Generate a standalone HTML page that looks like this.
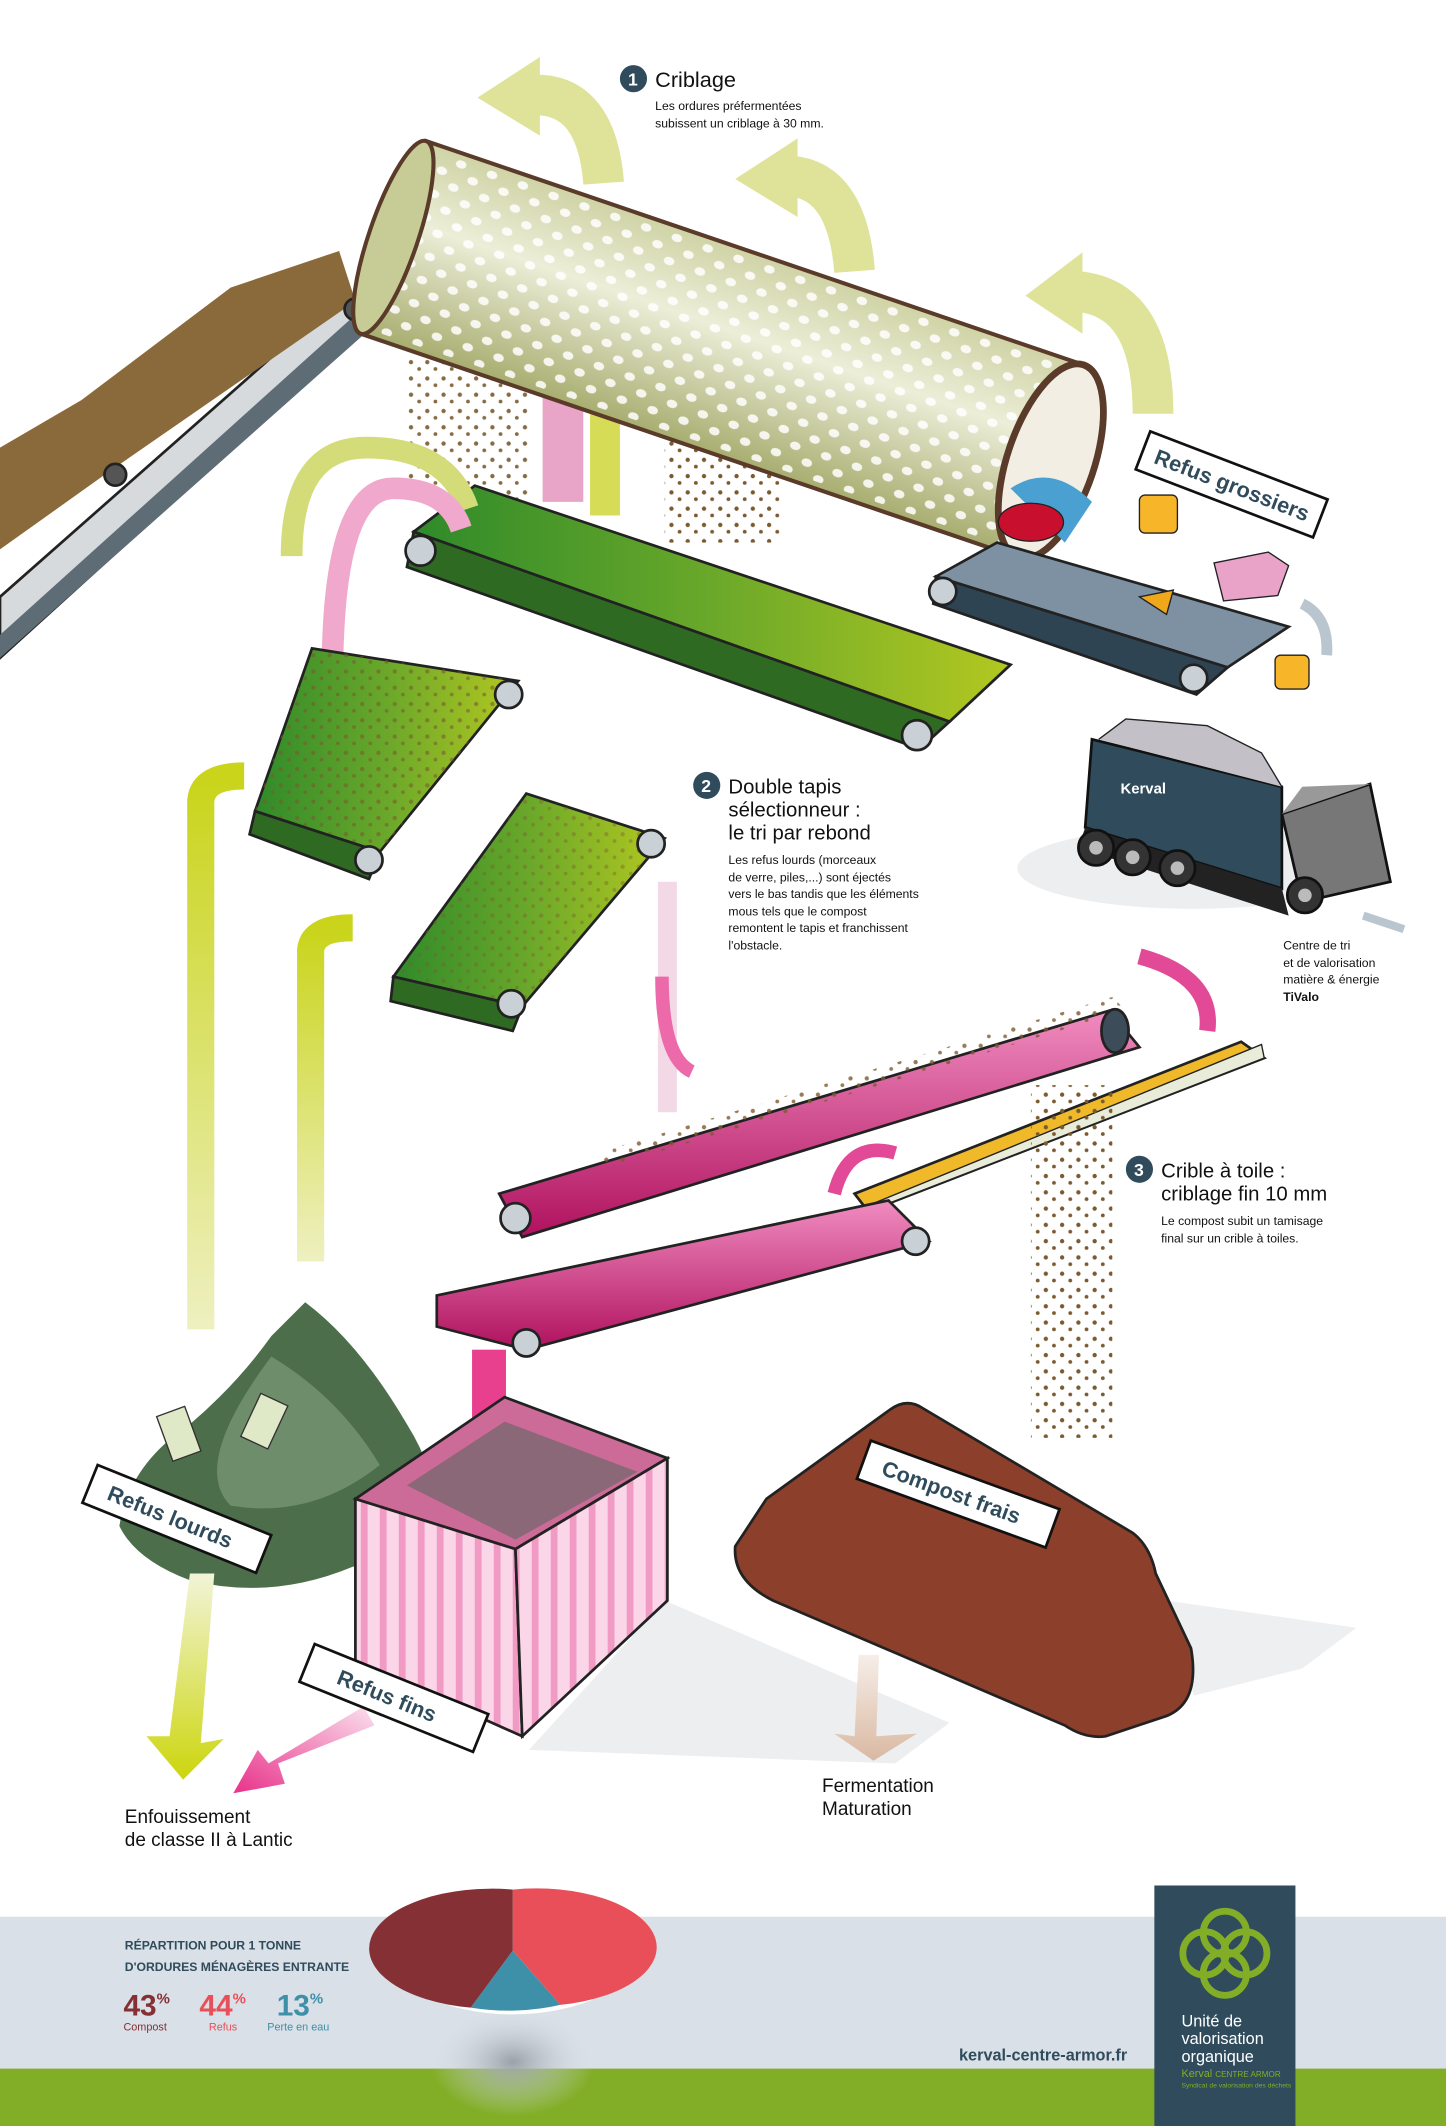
<!DOCTYPE html>
<html><head><meta charset="utf-8"><style>
html,body{margin:0;padding:0;background:#fff}
svg{display:block}
text{font-family:"Liberation Sans Narrow","Liberation Sans",sans-serif}
</style></head><body>
<svg width="1446" height="2126" viewBox="0 0 1066 1567.3" preserveAspectRatio="none" xmlns="http://www.w3.org/2000/svg">
<defs>
<linearGradient id="yg" x1="0" y1="0" x2="0" y2="1"><stop offset="0" stop-color="#c9d41a"/><stop offset="1" stop-color="#eef0c0"/></linearGradient>
<linearGradient id="yg2" x1="0" y1="0" x2="0" y2="1"><stop offset="0" stop-color="#f2f4d8"/><stop offset="1" stop-color="#ccd60c"/></linearGradient>
<linearGradient id="pk2" x1="1" y1="0" x2="0" y2="1"><stop offset="0" stop-color="#fbe0ee"/><stop offset="1" stop-color="#e8328a"/></linearGradient>
<linearGradient id="tan" x1="0" y1="0" x2="0" y2="1"><stop offset="0" stop-color="#f6eee8"/><stop offset="1" stop-color="#d9b9a2"/></linearGradient>
<linearGradient id="grn" x1="0" y1="0" x2="1" y2="0"><stop offset="0" stop-color="#2f8a2a"/><stop offset=".5" stop-color="#6aa82a"/><stop offset="1" stop-color="#b3c820"/></linearGradient>
<linearGradient id="drum" x1="0" y1="0" x2="0" y2="1"><stop offset="0" stop-color="#cfd3a5"/><stop offset=".4" stop-color="#eceed8"/><stop offset="1" stop-color="#a8ad70"/></linearGradient>
<linearGradient id="pinkb" x1="0" y1="0" x2="0" y2="1"><stop offset="0" stop-color="#f08cc0"/><stop offset="1" stop-color="#b0115e"/></linearGradient>
<pattern id="str" width="14" height="10" patternUnits="userSpaceOnUse"><rect width="14" height="10" fill="#fbd6e8"/><rect width="5" height="10" fill="#f09ac4"/></pattern>
<pattern id="holes" width="24" height="18" patternUnits="userSpaceOnUse"><ellipse cx="6" cy="5" rx="4" ry="3" fill="#fff" opacity=".85"/><ellipse cx="18" cy="14" rx="4" ry="3" fill="#fff" opacity=".85"/></pattern>
<pattern id="dots" width="12" height="12" patternUnits="userSpaceOnUse"><circle cx="3" cy="3" r="1.6" fill="#7a5a2e"/><circle cx="9" cy="8" r="1.4" fill="#7a5a2e"/></pattern>
<radialGradient id="sh"><stop offset="0" stop-color="#9aa2a8"/><stop offset="1" stop-color="#d9e0e7" stop-opacity="0"/></radialGradient>
</defs>

<g fill="none" stroke="#dfe39a" stroke-width="30">
<path d="M445,135 Q440,70 395,70"/>
<path d="M630,200 Q625,135 585,130"/>
<path d="M850,305 Q850,220 795,215"/>
</g>
<g fill="#dfe39a">
<polygon points="398,42 352,72 398,100"/>
<polygon points="588,102 542,132 588,160"/>
<polygon points="798,186 756,218 798,246"/>
</g>

<!-- left incline conveyor -->
<polygon points="0,440 255,215 270,240 0,485" fill="#d7dadd" stroke="#222" stroke-width="2"/>
<polygon points="0,468 262,232 270,245 0,485" fill="#5e6c76"/>
<polygon points="0,330 60,295 170,212 250,185 262,222 80,348 0,405" fill="#8a6a3a"/>
<circle cx="85" cy="350" r="8" fill="#555" stroke="#222" stroke-width="2"/>
<circle cx="262" cy="228" r="8" fill="#555" stroke="#222" stroke-width="2"/>

<rect x="300" y="250" width="90" height="120" fill="url(#dots)" opacity=".9"/>
<rect x="490" y="290" width="85" height="110" fill="url(#dots)"/>
<rect x="400" y="285" width="30" height="85" fill="#e9a5c8"/>
<rect x="435" y="300" width="22" height="80" fill="#d6dc55"/>

<g transform="translate(290,175) rotate(18.8)">
<rect x="0" y="-75" width="512" height="150" fill="url(#drum)" stroke="#5a3a28" stroke-width="3"/>
<rect x="10" y="-70" width="490" height="140" fill="url(#holes)"/>
<ellipse cx="0" cy="0" rx="18" ry="75" fill="#c7cb95" stroke="#5a3a28" stroke-width="3"/>
<ellipse cx="512" cy="0" rx="32" ry="75" fill="#f2eee4" stroke="#5a3a28" stroke-width="5"/>
</g>

<polygon points="690,425 735,400 950,462 905,492" fill="#7d91a2" stroke="#222" stroke-width="2"/>
<polygon points="690,425 905,492 882,512 688,445" fill="#2f4452" stroke="#222" stroke-width="2"/>
<circle cx="695" cy="436" r="10" fill="#c9d0d6" stroke="#222" stroke-width="2"/>
<circle cx="880" cy="500" r="10" fill="#c9d0d6" stroke="#222" stroke-width="2"/>
<path d="M745,360 q30,-20 60,10 l-20,30 z" fill="#4aa0d0"/>
<ellipse cx="760" cy="385" rx="24" ry="14" fill="#c8102e" stroke="#222"/>
<path d="M895,415 l40,-8 l15,10 l-8,22 l-40,4 z" fill="#e9a3c9" stroke="#222"/>
<rect x="840" y="365" width="28" height="28" rx="4" fill="#f7b52a" stroke="#222"/>
<rect x="940" y="483" width="25" height="25" rx="4" fill="#f7b52a" stroke="#222"/>
<path d="M840,440 l25,-5 l-5,18 z" fill="#f0a81a" stroke="#222"/>
<path d="M960,445 q20,10 18,38" fill="none" stroke="#b9c6d0" stroke-width="8"/>

<polygon points="305,392 350,358 745,490 700,532" fill="url(#grn)" stroke="#222" stroke-width="2"/>
<polygon points="305,392 700,532 678,552 300,418" fill="#2e6a22" stroke="#222" stroke-width="2"/>
<circle cx="310" cy="406" r="11" fill="#c9d0d6" stroke="#222" stroke-width="2"/>
<circle cx="676" cy="542" r="11" fill="#c9d0d6" stroke="#222" stroke-width="2"/>

<path d="M215,410 Q215,330 270,330 Q330,330 345,375" fill="none" stroke="#d4dc7a" stroke-width="16"/>
<path d="M245,500 Q245,360 290,360 Q330,360 340,390" fill="none" stroke="#f0a8cc" stroke-width="16"/>

<polygon points="188,598 230,478 382,502 280,628" fill="url(#grn)" stroke="#222" stroke-width="2"/>
<polygon points="188,598 230,478 382,502 280,628" fill="url(#dots)" opacity=".6"/>
<polygon points="188,598 280,628 272,648 184,615" fill="#2e6a22" stroke="#222" stroke-width="2"/>
<circle cx="272" cy="634" r="10" fill="#c9d0d6" stroke="#222" stroke-width="2"/>
<circle cx="375" cy="512" r="10" fill="#c9d0d6" stroke="#222" stroke-width="2"/>
<polygon points="290,720 388,585 490,618 385,742" fill="url(#grn)" stroke="#222" stroke-width="2"/>
<polygon points="290,720 388,585 490,618 385,742" fill="url(#dots)" opacity=".4"/>
<polygon points="290,720 385,742 378,760 288,738" fill="#2e6a22" stroke="#222" stroke-width="2"/>
<circle cx="377" cy="740" r="10" fill="#c9d0d6" stroke="#222" stroke-width="2"/>
<circle cx="480" cy="622" r="10" fill="#c9d0d6" stroke="#222" stroke-width="2"/>

<path d="M148,980 L148,590 Q150,572 180,572" fill="none" stroke="url(#yg)" stroke-width="20"/>
<path d="M229,930 L229,700 Q231,684 260,684" fill="none" stroke="url(#yg)" stroke-width="20"/>
<path d="M492,650 L492,820" stroke="#f3d9e6" stroke-width="14"/>
<path d="M488,720 Q488,780 510,790" fill="none" stroke="#ec6aa9" stroke-width="10"/>

<polygon points="368,880 818,745 840,772 385,912" fill="url(#pinkb)" stroke="#222" stroke-width="2"/>
<polygon points="440,850 820,735 830,745 450,860" fill="url(#dots)" opacity=".8"/>
<ellipse cx="822" cy="760" rx="10" ry="16" fill="#3c4c58" stroke="#222" stroke-width="2"/>
<circle cx="380" cy="898" r="11" fill="#c9d0d6" stroke="#222" stroke-width="2"/>
<path d="M840,705 Q895,720 890,760" fill="none" stroke="#e24a97" stroke-width="12"/>
<polygon points="630,880 915,768 932,780 640,893" fill="#f0b92a" stroke="#222" stroke-width="2"/>
<polygon points="632,892 640,893 932,780 930,770" fill="#e9ecd8" stroke="#222" stroke-width="1"/>
<polygon points="322,955 655,885 685,915 388,995 322,978" fill="url(#pinkb)" stroke="#222" stroke-width="2"/>
<circle cx="388" cy="990" r="10" fill="#c9d0d6" stroke="#222" stroke-width="2"/>
<circle cx="675" cy="915" r="10" fill="#c9d0d6" stroke="#222" stroke-width="2"/>
<path d="M615,880 Q625,840 660,850" fill="none" stroke="#e24a97" stroke-width="10"/>
<rect x="760" y="800" width="60" height="260" fill="url(#dots)"/>

<rect x="348" y="995" width="25" height="60" fill="#e8408f"/>

<ellipse cx="880" cy="640" rx="130" ry="30" fill="#eceef0"/>
<polygon points="805,545 945,580 945,655 800,610" fill="#2f4b5c" stroke="#111" stroke-width="2"/>
<polygon points="800,610 945,655 950,675 795,625" fill="#222"/>
<polygon points="945,600 1010,578 1025,650 960,665" fill="#777" stroke="#111" stroke-width="2"/>
<polygon points="945,600 960,580 1010,578" fill="#999"/>
<g fill="#333" stroke="#111" stroke-width="2"><circle cx="808" cy="625" r="13"/><circle cx="835" cy="632" r="13"/><circle cx="868" cy="640" r="13"/><circle cx="962" cy="660" r="13"/></g>
<g fill="#bbb"><circle cx="808" cy="625" r="5"/><circle cx="835" cy="632" r="5"/><circle cx="868" cy="640" r="5"/><circle cx="962" cy="660" r="5"/></g>
<path d="M810,545 l20,-15 l60,5 l40,20 l15,25" fill="#c4c0c8" stroke="#222"/>
<text x="826" y="585" font-size="11" fill="#fff" font-weight="bold">Kerval</text>
<path d="M1005,675 L1035,685" stroke="#b9c6d0" stroke-width="6"/>

<path d="M225,960 Q265,990 300,1050 Q325,1090 320,1125 Q300,1150 260,1155 Q200,1180 140,1165 Q100,1150 88,1125 Q95,1080 140,1050 Q175,1020 200,985 Z" fill="#4d6e4a"/>
<path d="M200,1000 Q250,1030 280,1080 Q230,1120 170,1110 Q140,1080 200,1000 Z" fill="#7c9a78" opacity=".7"/>
<rect x="120" y="1040" width="22" height="35" fill="#dfe9c8" stroke="#333" transform="rotate(-20 130 1055)"/>
<rect x="185" y="1030" width="22" height="35" fill="#dfe9c8" stroke="#333" transform="rotate(25 195 1045)"/>

<polygon points="490,1180 700,1270 660,1300 390,1290" fill="#eceef0"/>
<polygon points="860,1180 1000,1200 960,1230 880,1250" fill="#eeeff0"/>
<polygon points="262,1105 372,1030 492,1075 380,1142" fill="#cc6a98" stroke="#222" stroke-width="2"/>
<polygon points="300,1095 372,1048 470,1085 380,1135" fill="#8a6878"/>
<polygon points="262,1105 380,1142 385,1280 262,1225" fill="url(#str)" stroke="#222" stroke-width="2"/>
<polygon points="380,1142 492,1075 492,1180 385,1280" fill="url(#str)" stroke="#222" stroke-width="2"/>

<path d="M565,1105 L655,1040 Q668,1030 680,1038 L835,1130 Q848,1140 852,1160 L878,1215 Q885,1255 860,1265 L815,1280 Q800,1282 785,1272 L570,1180 Q540,1165 542,1140 Z" fill="#8c3f2a" stroke="#222" stroke-width="2"/>

<polygon points="140,1160 158,1160 148,1285 165,1282 135,1312 108,1280 125,1280" fill="url(#yg2)"/>
<polygon points="268,1258 276,1272 205,1300 210,1315 172,1322 190,1290 198,1300" fill="url(#pk2)"/>
<polygon points="633,1220 648,1220 646,1280 676,1278 644,1298 615,1278 630,1280" fill="url(#tan)"/>

<g transform="translate(848,318) rotate(21)"><rect x="0" y="0" width="140" height="30" fill="#fff" stroke="#111" stroke-width="2"/><text x="10" y="21" font-size="16" font-weight="bold" fill="#2f4b5c">Refus grossiers</text></g>
<g transform="translate(72,1080) rotate(22)"><rect x="0" y="0" width="138" height="30" fill="#fff" stroke="#111" stroke-width="2"/><text x="15" y="21" font-size="16" font-weight="bold" fill="#2f4b5c">Refus lourds</text></g>
<g transform="translate(232,1212) rotate(22)"><rect x="0" y="0" width="138" height="30" fill="#fff" stroke="#111" stroke-width="2"/><text x="25" y="21" font-size="16" font-weight="bold" fill="#2f4b5c">Refus fins</text></g>
<g transform="translate(642,1062) rotate(20)"><rect x="0" y="0" width="148" height="30" fill="#fff" stroke="#111" stroke-width="2"/><text x="15" y="21" font-size="16" font-weight="bold" fill="#2f4b5c">Compost frais</text></g>

<circle cx="467" cy="58" r="10" fill="#2f4b5c"/><text x="463" y="63" font-size="13" fill="#fff" font-weight="bold">1</text>
<text x="483" y="64" font-size="16" fill="#111">Criblage</text>
<text x="483" y="81" font-size="9" fill="#111">Les ordures préfermentées</text>
<text x="483" y="94" font-size="9" fill="#111">subissent un criblage à 30 mm.</text>

<circle cx="521" cy="579" r="10" fill="#2f4b5c"/><text x="517" y="584" font-size="13" fill="#fff" font-weight="bold">2</text>
<text x="537" y="585" font-size="15" fill="#111">Double tapis</text>
<text x="537" y="602" font-size="15" fill="#111">sélectionneur :</text>
<text x="537" y="619" font-size="15" fill="#111">le tri par rebond</text>
<g font-size="9" fill="#111"><text x="537" y="637">Les refus lourds (morceaux</text><text x="537" y="650">de verre, piles,...) sont éjectés</text><text x="537" y="662">vers le bas tandis que les éléments</text><text x="537" y="675">mous tels que le compost</text><text x="537" y="687">remontent le tapis et franchissent</text><text x="537" y="700">l'obstacle.</text></g>

<g font-size="9" fill="#111"><text x="946" y="700">Centre de tri</text><text x="946" y="713">et de valorisation</text><text x="946" y="725">matière &amp; énergie</text><text x="946" y="738" font-weight="bold">TiValo</text></g>

<circle cx="840" cy="862" r="10" fill="#2f4b5c"/><text x="836" y="867" font-size="13" fill="#fff" font-weight="bold">3</text>
<text x="856" y="868" font-size="15" fill="#111">Crible à toile :</text>
<text x="856" y="885" font-size="15" fill="#111">criblage fin 10 mm</text>
<text x="856" y="903" font-size="9" fill="#111">Le compost subit un tamisage</text>
<text x="856" y="916" font-size="9" fill="#111">final sur un crible à toiles.</text>

<text x="92" y="1344" font-size="14" fill="#111">Enfouissement</text>
<text x="92" y="1361" font-size="14" fill="#111">de classe II à Lantic</text>
<text x="606" y="1321" font-size="14" fill="#111">Fermentation</text>
<text x="606" y="1338" font-size="14" fill="#111">Maturation</text>

<rect x="0" y="1413" width="1066" height="113" fill="#d9e0e7"/>
<rect x="0" y="1525" width="1066" height="43" fill="#82ae27"/>
<ellipse cx="378" cy="1520" rx="60" ry="40" fill="url(#sh)"/>
<ellipse cx="378" cy="1438" rx="92" ry="47" fill="#fff"/>
<path d="M378,1438 L378,1393 A88,43 0 0 1 413,1478 Z" fill="#e84f58"/>
<path d="M378,1438 L413,1478 A88,43 0 0 1 347,1480 Z" fill="#3e8fa8"/>
<path d="M378,1438 L347,1480 A88,43 0 0 1 378,1393 Z" fill="#843035"/>
<text x="92" y="1437" font-size="9" fill="#2f4b5c" font-weight="bold">RÉPARTITION POUR 1 TONNE</text>
<text x="92" y="1453" font-size="9" fill="#2f4b5c" font-weight="bold">D'ORDURES MÉNAGÈRES ENTRANTE</text>
<text x="91" y="1486" font-size="22" fill="#843035" font-weight="bold">43<tspan font-size="11" dy="-9">%</tspan></text>
<text x="147" y="1486" font-size="22" fill="#e84f58" font-weight="bold">44<tspan font-size="11" dy="-9">%</tspan></text>
<text x="204" y="1486" font-size="22" fill="#3e8fa8" font-weight="bold">13<tspan font-size="11" dy="-9">%</tspan></text>
<text x="91" y="1497" font-size="8" fill="#843035">Compost</text>
<text x="154" y="1497" font-size="8" fill="#e84f58">Refus</text>
<text x="197" y="1497" font-size="8" fill="#3e8fa8">Perte en eau</text>
<text x="707" y="1519" font-size="12" fill="#2f4b5c" font-weight="bold">kerval-centre-armor.fr</text>

<rect x="851" y="1390" width="104" height="178" fill="#2f4b5c"/>
<g fill="none" stroke="#82ae27" stroke-width="5">
<circle cx="903" cy="1425" r="16"/><circle cx="903" cy="1455" r="16"/><circle cx="888" cy="1440" r="16"/><circle cx="918" cy="1440" r="16"/>
</g>
<text x="871" y="1494" font-size="12" fill="#fff">Unité de</text>
<text x="871" y="1507" font-size="12" fill="#fff">valorisation</text>
<text x="871" y="1520" font-size="12" fill="#fff">organique</text>
<text x="871" y="1531" font-size="8" fill="#82ae27">Kerval <tspan font-size="6">CENTRE ARMOR</tspan></text>
<text x="871" y="1539" font-size="5" fill="#82ae27">Syndicat de valorisation des déchets</text>
</svg>
</body></html>
